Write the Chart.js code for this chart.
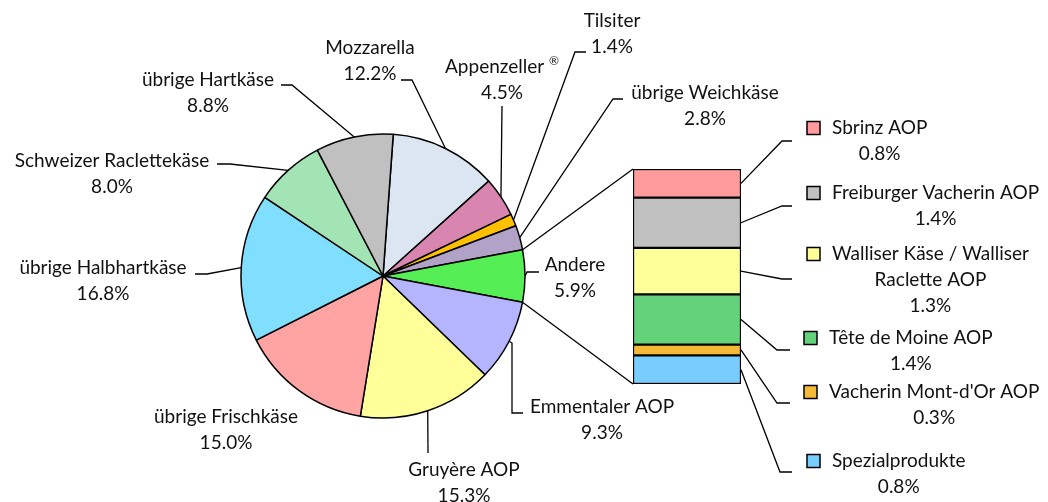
<!DOCTYPE html>
<html>
<head>
<meta charset="utf-8">
<script src="https://cdn.jsdelivr.net/npm/chart.js@4.4.1/dist/chart.umd.min.js"></script>
<style>
    html, body { margin: 0; padding: 0; background: #fff; }
    #wrap { position: relative; width: 1048px; height: 502px; }
    #wrap canvas { position: absolute; left: 0; top: 0; }
</style>
</head>
<body>
<div id="wrap">
    <canvas id="pieChart" width="1048" height="502"></canvas>
    <canvas id="barChart" width="1048" height="502"></canvas>
</div>
<script>
var pieLabels = ["Mozzarella", "Appenzeller ®", "Tilsiter", "übrige Weichkäse", "Andere", "Emmentaler AOP",
    "Gruyère AOP", "übrige Frischkäse", "übrige Halbhartkäse", "Schweizer Raclettekäse", "übrige Hartkäse"];
var pieValues = [12.2, 4.5, 1.4, 2.8, 5.9, 9.3, 15.3, 15.0, 16.8, 8.0, 8.8];
var pieColors = ["#DCE6F2", "#D886B0", "#FFC000", "#B3A2C7", "#55EF55", "#B5B5FF",
    "#FFFF99", "#FFA3A3", "#80DEFF", "#A3E4B5", "#C0C0C0"];

var barLabels = ["Sbrinz AOP", "Freiburger Vacherin AOP", "Walliser Käse / Walliser\nRaclette AOP",
    "Tête de Moine AOP", "Vacherin Mont-d'Or AOP", "Spezialprodukte"];
var barValues = [0.8, 1.4, 1.3, 1.4, 0.3, 0.8];
var barColors = ["#FF9B9B", "#C0C0C0", "#FFFF99", "#63D27B", "#F4B935", "#78CDFF"];

var otherIndex = 4; // "Andere" slice is split into the bar

var FONT = "19px Lato";
var LINE = 26;
var TEXT = "#111";

// label anchors (centre x, first line y) and leader points, label side first
var pieLabelPos = [
    { x: 370, y: 48, leader: [[401, 80], [412, 80]] },
    { x: 502, y: 67, leader: [[502, 106]] },
    { x: 612, y: 21, leader: [[586, 52], [575, 52]] },
    { x: 705, y: 93, leader: [[623, 99], [613, 99]] },
    { x: 575, y: 265, leader: [[539, 272], [527, 272]] },
    { x: 602, y: 407, leader: [[523, 413], [512, 413], [512, 343]] },
    { x: 464, y: 470, leader: [[428, 453]] },
    { x: 226, y: 417, leader: [] },
    { x: 103, y: 268, leader: [[195, 274], [207, 274]] },
    { x: 112, y: 161, leader: [[217, 164], [230, 164]] },
    { x: 208, y: 80, leader: [[281, 85], [292, 85]] }
];

// legend text left x, first line y, leader points (label side first)
var barLabelPos = [
    { x: 832, y: 128, leader: [[792, 141], [782, 141]] },
    { x: 832, y: 193, leader: [[792, 206], [782, 206]] },
    { x: 832, y: 254, leader: [[792, 279], [782, 279]] },
    { x: 829, y: 338, leader: [[790, 350], [777, 350]] },
    { x: 829, y: 392, leader: [[790, 403], [777, 403]] },
    { x: 832, y: 461, leader: [[792, 472], [780, 472]] }
];

function pct(v) {
    return v.toFixed(1) + "%";
}

function edgePoint(arc, angle) {
    return {
        x: arc.x + Math.cos(angle) * arc.outerRadius,
        y: arc.y + Math.sin(angle) * arc.outerRadius
    };
}

function polyline(ctx, pts) {
    ctx.beginPath();
    ctx.moveTo(pts[0][0], pts[0][1]);
    for (var i = 1; i < pts.length; i++) {
        ctx.lineTo(pts[i][0], pts[i][1]);
    }
    ctx.stroke();
}

function drawCentered(ctx, text, cx, y) {
    // small raised ® like in the original
    if (text.slice(-1) === "®") {
        var main = text.slice(0, -1);
        ctx.font = FONT;
        var w1 = ctx.measureText(main).width;
        ctx.font = "12px Lato";
        var w2 = ctx.measureText("®").width;
        var left = cx - (w1 + w2) / 2;
        ctx.textAlign = "left";
        ctx.font = FONT;
        ctx.fillText(main, left, y);
        ctx.font = "12px Lato";
        ctx.fillText("®", left + w1, y - 6);
        ctx.font = FONT;
        ctx.textAlign = "center";
        return;
    }
    ctx.font = FONT;
    ctx.textAlign = "center";
    ctx.fillText(text, cx, y);
}

var pieLabelPlugin = {
    id: "pieLabels",
    afterDraw: function (chart) {
        var ctx = chart.ctx;
        var arcs = chart.getDatasetMeta(0).data;
        ctx.save();
        ctx.strokeStyle = "#000";
        ctx.lineWidth = 1.3;
        ctx.fillStyle = TEXT;
        ctx.textBaseline = "middle";
        arcs.forEach(function (arc, i) {
            var pos = pieLabelPos[i];
            if (pos.leader.length) {
                var mid = (arc.startAngle + arc.endAngle) / 2;
                var e = edgePoint(arc, mid);
                polyline(ctx, pos.leader.concat([[e.x, e.y]]));
            }
            drawCentered(ctx, pieLabels[i], pos.x, pos.y);
            drawCentered(ctx, pct(pieValues[i]), pos.x, pos.y + LINE);
        });
        ctx.restore();
    }
};

var pieChart = new Chart(document.getElementById("pieChart"), {
    type: "pie",
    data: {
        labels: pieLabels,
        datasets: [{
            data: pieValues,
            backgroundColor: pieColors,
            borderColor: "#000",
            borderWidth: 1.5
        }]
    },
    options: {
        responsive: false,
        animation: false,
        radius: 142,
        // Excel puts the split slice centred at 3 o'clock
        rotation: 90 - (pieValues.slice(0, otherIndex).reduce(function (a, b) { return a + b; }, 0) + pieValues[otherIndex] / 2) * 3.6,
        layout: { padding: { left: 0, right: 282, top: 50, bottom: 0 } },
        plugins: {
            legend: { display: false },
            tooltip: { enabled: false }
        }
    },
    plugins: [pieLabelPlugin]
});

var barTotal = barValues.reduce(function (a, b) { return a + b; }, 0);

var barLabelPlugin = {
    id: "barLabels",
    afterDraw: function (chart) {
        var ctx = chart.ctx;
        var bars = chart.data.datasets.map(function (ds, i) {
            return chart.getDatasetMeta(i).data[0];
        });
        var top = Infinity, bottom = -Infinity, left = 0, right = 0;
        bars.forEach(function (b) {
            top = Math.min(top, b.y, b.base);
            bottom = Math.max(bottom, b.y, b.base);
            left = b.x - b.width / 2;
            right = b.x + b.width / 2;
        });

        ctx.save();
        ctx.strokeStyle = "#000";
        ctx.lineWidth = 1.3;

        // lines joining the "Andere" slice to the bar
        var arc = pieChart.getDatasetMeta(0).data[otherIndex];
        var s = edgePoint(arc, arc.startAngle);
        var e = edgePoint(arc, arc.endAngle);
        polyline(ctx, [[s.x, s.y], [left, top]]);
        polyline(ctx, [[e.x, e.y], [left, bottom]]);

        ctx.fillStyle = TEXT;
        ctx.textBaseline = "middle";
        ctx.font = FONT;
        bars.forEach(function (b, i) {
            var pos = barLabelPos[i];
            var midY = (b.y + b.base) / 2;
            polyline(ctx, pos.leader.concat([[right, midY]]));

            var lines = barLabels[i].split("\n");
            lines.push(pct(barValues[i]));
            var w0 = ctx.measureText(lines[0]).width;
            var cx = pos.x + w0 / 2;

            ctx.fillStyle = barColors[i];
            ctx.fillRect(pos.x - 25, pos.y - 6.5, 13, 13);
            ctx.lineWidth = 1.5;
            ctx.strokeRect(pos.x - 25, pos.y - 6.5, 13, 13);
            ctx.lineWidth = 1.3;

            ctx.fillStyle = TEXT;
            ctx.textAlign = "left";
            ctx.fillText(lines[0], pos.x, pos.y);
            ctx.textAlign = "center";
            for (var k = 1; k < lines.length; k++) {
                ctx.fillText(lines[k], cx, pos.y + LINE * k);
            }
        });
        ctx.restore();
    }
};

var barChart = new Chart(document.getElementById("barChart"), {
    type: "bar",
    data: {
        labels: ["Andere"],
        datasets: barLabels.map(function (lab, i) {
            return {
                label: lab,
                data: [barValues[i]],
                backgroundColor: barColors[i],
                borderColor: "#000",
                borderWidth: 1.5,
                borderSkipped: false,
                barPercentage: 1,
                categoryPercentage: 1
            };
        })
    },
    options: {
        responsive: false,
        animation: false,
        layout: { padding: { left: 633, right: 307, top: 169, bottom: 118 } },
        scales: {
            x: { display: false, stacked: true },
            y: { display: false, stacked: true, reverse: true, min: 0, max: barTotal }
        },
        plugins: {
            legend: { display: false },
            tooltip: { enabled: false }
        }
    },
    plugins: [barLabelPlugin]
});
</script>
</body>
</html>
